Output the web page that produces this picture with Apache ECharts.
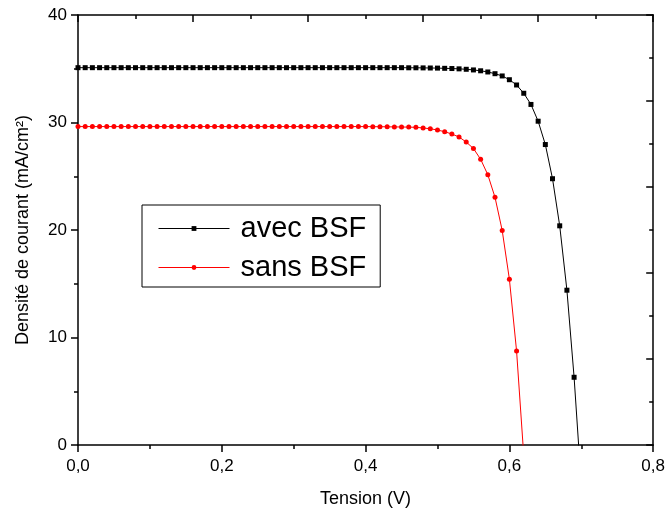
<!DOCTYPE html>
<html>
<head>
<meta charset="utf-8">
<script src="https://cdn.jsdelivr.net/npm/echarts@6/dist/echarts.min.js"></script>
<style>
    html, body { margin: 0; padding: 0; background: #fff; }
    #chart { width: 668px; height: 514px; }
</style>
</head>
<body>
<div id="chart"></div>
<script>
// tension (V), pas de 0,01
const tension = [
    0.00, 0.01, 0.02, 0.03, 0.04, 0.05, 0.06, 0.07, 0.08, 0.09,
    0.10, 0.11, 0.12, 0.13, 0.14, 0.15, 0.16, 0.17, 0.18, 0.19,
    0.20, 0.21, 0.22, 0.23, 0.24, 0.25, 0.26, 0.27, 0.28, 0.29,
    0.30, 0.31, 0.32, 0.33, 0.34, 0.35, 0.36, 0.37, 0.38, 0.39,
    0.40, 0.41, 0.42, 0.43, 0.44, 0.45, 0.46, 0.47, 0.48, 0.49,
    0.50, 0.51, 0.52, 0.53, 0.54, 0.55, 0.56, 0.57, 0.58, 0.59,
    0.60, 0.61, 0.62, 0.63, 0.64, 0.65, 0.66, 0.67, 0.68, 0.69,
    0.70
];

// densite de courant (mA/cm2) avec BSF
const avecBSF = [
    35.10, 35.10, 35.10, 35.10, 35.10, 35.10, 35.10, 35.10, 35.10, 35.10,
    35.10, 35.10, 35.10, 35.10, 35.10, 35.10, 35.10, 35.10, 35.10, 35.10,
    35.10, 35.10, 35.10, 35.10, 35.10, 35.10, 35.10, 35.10, 35.10, 35.10,
    35.10, 35.10, 35.10, 35.10, 35.10, 35.10, 35.10, 35.10, 35.10, 35.10,
    35.10, 35.10, 35.10, 35.10, 35.10, 35.10, 35.09, 35.09, 35.08, 35.07,
    35.06, 35.04, 35.02, 34.99, 34.95, 34.89, 34.81, 34.70, 34.54, 34.33,
    33.98, 33.49, 32.72, 31.68, 30.12, 27.95, 24.77, 20.39, 14.40, 6.30,
    -3.70
];

// densite de courant (mA/cm2) sans BSF
const sansBSF = [
    29.62, 29.62, 29.62, 29.62, 29.62, 29.62, 29.62, 29.62, 29.62, 29.62,
    29.62, 29.62, 29.62, 29.62, 29.62, 29.62, 29.62, 29.62, 29.62, 29.62,
    29.62, 29.62, 29.62, 29.62, 29.62, 29.62, 29.62, 29.62, 29.62, 29.62,
    29.62, 29.62, 29.62, 29.62, 29.62, 29.62, 29.62, 29.62, 29.62, 29.62,
    29.62, 29.61, 29.61, 29.60, 29.59, 29.58, 29.57, 29.55, 29.49, 29.42,
    29.30, 29.14, 28.93, 28.65, 28.18, 27.58, 26.58, 25.14, 23.04, 19.96,
    15.43, 8.75, -1.00
];

const xTicks = [0, 0.8, 0.2];   // min, max, pas
const yTicks = [0, 40, 10];

const fontFamily = "'Liberation Sans', Arial, sans-serif";
const toComma = v => v.toFixed(1).replace('.', ',');

const pairs = (xs, ys) => ys.map((y, i) => [xs[i], y]);

const chart = echarts.init(document.getElementById('chart'));

const option = {
    animation: false,
    backgroundColor: '#fff',
    grid: { left: 78, right: 13, top: 15, bottom: 69 },
    legend: {
        orient: 'vertical',
        left: 142,
        top: 205,
        padding: [9, 14, 5, 16],
        itemGap: 10,
        itemWidth: 71,
        itemHeight: 6,
        borderColor: '#000',
        borderWidth: 1,
        lineStyle: { width: 1 },
        textStyle: { fontFamily: fontFamily, fontSize: 29, color: '#000', padding: [0, 0, 0, 6] },
        data: ['avec BSF', 'sans BSF']
    },
    xAxis: [
        {
            type: 'value',
            min: xTicks[0],
            max: xTicks[1],
            interval: xTicks[2],
            name: 'Tension (V)',
            nameLocation: 'middle',
            nameGap: 45,
            nameTextStyle: { fontFamily: fontFamily, fontSize: 18, color: '#000' },
            axisLine: { onZero: false, lineStyle: { color: '#000', width: 1.5 } },
            axisTick: { inside: false, length: 7, lineStyle: { color: '#000', width: 1.5 } },
            minorTick: { show: true, splitNumber: 2, length: 4, lineStyle: { color: '#000', width: 1.5 } },
            axisLabel: { margin: 13, fontFamily: fontFamily, fontSize: 17, color: '#000', formatter: toComma },
            splitLine: { show: false }
        },
        {
            type: 'value',
            position: 'top',
            min: 0,
            max: 1,
            interval: 0.2,
            axisLine: { onZero: false, lineStyle: { color: '#000', width: 1.5 } },
            axisTick: { inside: true, length: 7, lineStyle: { color: '#000', width: 1.5 } },
            minorTick: { show: true, splitNumber: 2, length: 4, lineStyle: { color: '#000', width: 1.5 } },
            axisLabel: { show: false },
            splitLine: { show: false }
        }
    ],
    yAxis: [
        {
            type: 'value',
            min: yTicks[0],
            max: yTicks[1],
            interval: yTicks[2],
            name: 'Densité de courant (mA/cm²)',
            nameLocation: 'middle',
            nameGap: 46,
            nameTextStyle: { fontFamily: fontFamily, fontSize: 18, color: '#000' },
            axisLine: { show: true, onZero: false, lineStyle: { color: '#000', width: 1.5 } },
            axisTick: { show: true, inside: false, length: 7, lineStyle: { color: '#000', width: 1.5 } },
            minorTick: { show: true, splitNumber: 2, length: 4, lineStyle: { color: '#000', width: 1.5 } },
            axisLabel: { margin: 11, fontFamily: fontFamily, fontSize: 17, color: '#000' },
            splitLine: { show: false }
        },
        {
            type: 'value',
            position: 'right',
            min: 0,
            max: 1,
            interval: 0.2,
            axisLine: { show: true, onZero: false, lineStyle: { color: '#000', width: 1.5 } },
            axisTick: { show: true, inside: true, length: 7, lineStyle: { color: '#000', width: 1.5 } },
            minorTick: { show: true, splitNumber: 2, length: 4, lineStyle: { color: '#000', width: 1.5 } },
            axisLabel: { show: false },
            splitLine: { show: false }
        }
    ],
    series: [
        {
            name: 'avec BSF',
            type: 'line',
            xAxisIndex: 0,
            yAxisIndex: 0,
            clip: true,
            symbol: 'rect',
            symbolSize: 5,
            color: '#000',
            lineStyle: { color: '#000', width: 1 },
            itemStyle: { color: '#000' },
            data: pairs(tension, avecBSF)
        },
        {
            name: 'sans BSF',
            type: 'line',
            xAxisIndex: 0,
            yAxisIndex: 0,
            clip: true,
            symbol: 'circle',
            symbolSize: 5,
            color: '#ff0000',
            lineStyle: { color: '#ff0000', width: 1 },
            itemStyle: { color: '#ff0000' },
            data: pairs(tension, sansBSF)
        }
    ]
};

option && chart.setOption(option);
</script>
</body>
</html>
